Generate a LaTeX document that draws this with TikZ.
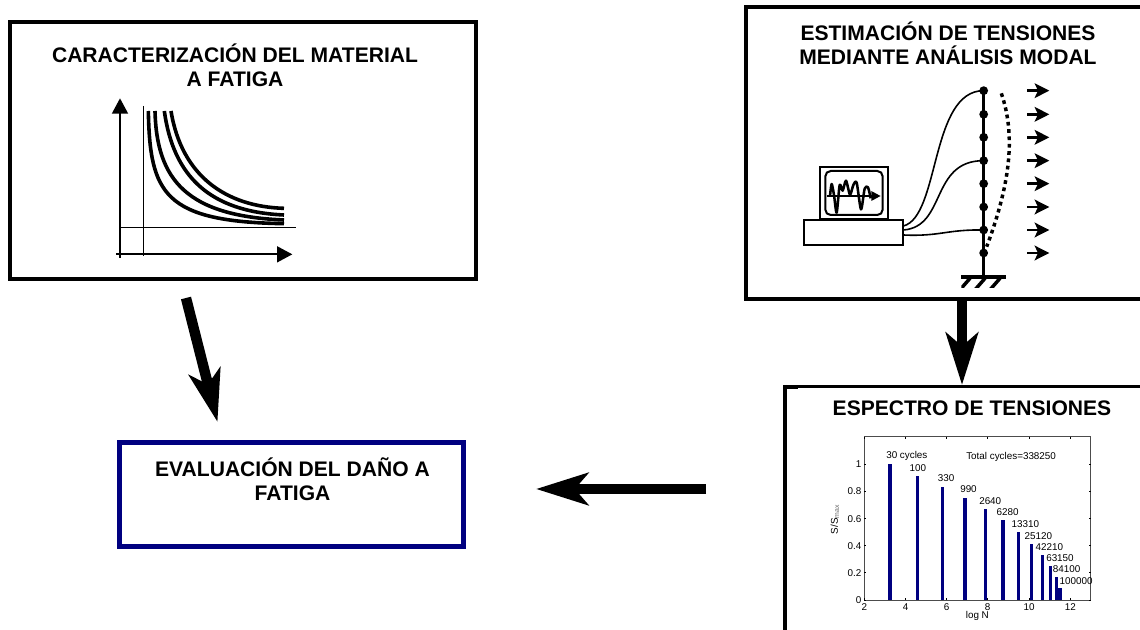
\documentclass[tikz,border=0pt]{standalone}
\usepackage{fontspec}
\setmainfont{Liberation Sans}
\usetikzlibrary{arrows.meta}
\tikzset{
 panel/.style={draw=black,line width=3pt,fill=white,anchor=north west,inner sep=0pt},
 bluepanel/.style={draw=blue!50!black,line width=4pt,fill=white,anchor=north west,inner sep=0pt},
 ttl/.style={font=\fontsize{15.8}{18}\selectfont\bfseries,align=center,inner sep=0pt},
 chartxt/.style={font=\fontsize{7.4}{8}\selectfont,inner sep=0pt},
 bar/.style={fill=blue!50!black,draw=none},
 bigarrow/.style={line width=7.8pt,-{Stealth[length=39pt,width=24pt,inset=10pt]}},
 sens/.style={circle,fill=black,inner sep=0pt,minimum size=6.6pt},
 load/.style={line width=1.8pt,-{Stealth[length=11pt,width=11pt,inset=2.5pt]}},
 sncurve/.style={line width=2.7pt},
 axisarrow/.style={line width=1.3pt,-{Triangle[length=11.5pt,width=12pt]}},
 thinaxis/.style={line width=1.1pt},
 wire/.style={line width=1.2pt},
}
\begin{document}
\begin{tikzpicture}[x=.75pt,y=-.75pt]
\useasboundingbox (0,0) rectangle (1140,630);
\fill[white] (0,0) rectangle (1140,630);
% panels
\node[panel,minimum width=349.5pt,minimum height=193pt] (mat) at (8,20) {};
\node[panel,minimum width=400pt,minimum height=219pt] (est) at (744,5) {};
\node[panel,line width=2.4pt,minimum width=400pt,minimum height=300pt] (esp) at (783,385) {};
\fill (783,385) rectangle (798,389);
\draw[line width=3pt] (785,385) -- (785,630);
\node[bluepanel,minimum width=258pt,minimum height=78pt] (eva) at (117,440) {};
% titles
\node[ttl] (t1) at (235,65) {CARACTERIZACIÓN DEL MATERIAL\\A FATIGA};
\node[ttl] (t2) at (948,43) {ESTIMACIÓN DE TENSIONES\\MEDIANTE ANÁLISIS MODAL};
\node[ttl] (t3) at (972,408) {ESPECTRO DE TENSIONES};
\node[ttl] (t4) at (292.5,479) {EVALUACIÓN DEL DAÑO A\\FATIGA};
% big arrows
\coordinate (a1) at (186,298);
\coordinate (a2) at (217.5,422);
\draw[bigarrow] (a1) -- (a2);
\coordinate (b1) at (962,301);
\coordinate (b2) at (962,385);
\draw[bigarrow] (b1) -- (b2);
\coordinate (c1) at (706,489);
\coordinate (c2) at (536,489);
\draw[bigarrow] (c1) -- (c2);
% S-N sketch
\begin{scope}[shift={(100,90)},x=.25pt,y=-.25pt]
\draw[axisarrow] (60,503) -- (60,25);
\draw[axisarrow] (48,493) -- (577,493);
\draw[thinaxis] (130,48) -- (130,497);
\draw[thinaxis] (60,412) -- (587,412);
\draw[sncurve] (145,63) .. controls (150,310) and (190,395) .. (552,401);
\draw[sncurve] (165,63) .. controls (170,270) and (260,378) .. (552,390);
\draw[sncurve] (193,63) .. controls (220,260) and (330,365) .. (552,375);
\draw[sncurve] (213,63) .. controls (245,260) and (380,350) .. (552,355);
\end{scope}
% modal sketch
\begin{scope}[shift={(790,70)},x=.25pt,y=-.25pt]
\node[draw,line width=1.5pt,fill=white,minimum width=51pt,minimum height=39pt,inner sep=0pt] (mon) at (192,370) {};
\node[draw,line width=1.5pt,fill=white,rounded corners=4pt,minimum width=43pt,minimum height=33pt,inner sep=0pt] (scr) at (192,369) {};
\node[draw,line width=1.5pt,fill=white,minimum width=74pt,minimum height=19pt,inner sep=0pt] (base) at (191,488) {};
\draw[line width=1.5pt,-{Triangle[length=7pt,width=7pt]}] (112,378) -- (272,378);
\draw[line width=1.9pt,line join=round] plot[smooth,tension=.45] coordinates {(120,378) (125,342) (132,375) (140,428) (149,345) (158,362) (168,332) (180,374) (190,345) (200,338) (213,418) (224,356) (234,352) (242,385)};
\coordinate (top) at (581,62);
\coordinate (foot) at (581,618);
\draw[line width=2.6pt] (top) -- (foot);
\foreach \n/\yy in {1/62,2/133,3/202,4/272,5/341,6/411,7/480,8/549}{
  \node[sens] (s\n) at (581,\yy) {};
  \coordinate (l\n) at (712,\yy);
  \coordinate (m\n) at (778,\yy);
  \draw[load] (l\n) -- (m\n);
}
\coordinate (g1) at (514,621);
\coordinate (g2) at (648,621);
\draw[line width=3pt] (g1) -- (g2);
\begin{scope}
\clip (514,621) rectangle (648,654);
\foreach \xx in {540,585,630}{\draw[line width=2.6pt] (\xx,625) -- (\xx-28,657);}
\end{scope}
\draw[wire] (340,468) .. controls (450,440) and (420,62) .. (s1.center);
\draw[wire] (340,480) .. controls (470,470) and (420,272) .. (s4.center);
\draw[wire] (340,495) .. controls (450,500) and (470,478) .. (s7.center);
\draw[line width=2.6pt,dash pattern=on 2.8pt off 2.7pt] (634,70) .. controls (675,190) and (665,330) .. (590,530);
\end{scope}
% chart
\begin{scope}[shift={(780,380)},x=.25pt,y=-.25pt]
\draw[line width=.5pt,draw=black!70] (253,170) rectangle (932,660);
\foreach \xx/\tp in {330/253,412/287,488/320,555/354,617/388,669/421,716/456,755/491,787/524,812/558,829/592,840/625}{
  \fill[bar] (\xx-5,\tp) rectangle (\xx+5,660);
}
\foreach \xx/\lab in {253/2,377/4,500/6,623/8,747/10,871/12}{
  \draw[line width=.4pt] (\xx,660) -- (\xx,654);
  \draw[line width=.4pt] (\xx,170) -- (\xx,176);
  \node[chartxt] (xt\lab) at (\xx,681) {\lab};
}
\foreach \yy/\lab in {660/0,578/0.2,497/0.4,416/0.6,334/0.8,253/1}{
  \draw[line width=.4pt] (253,\yy) -- (259,\yy);
  \draw[line width=.4pt] (932,\yy) -- (926,\yy);
  \node[chartxt,anchor=east] (yt\lab) at (245,\yy) {\lab};
}
\node[chartxt] (xl) at (592,707) {log N};
\node[chartxt,rotate=90] (yl) at (165,418) {S/S\textsubscript{\textcolor{black!60}{max}}};
\node[chartxt,anchor=west] (l01) at (318,228) {30 cycles};
\node[chartxt,anchor=west] (l00) at (558,230) {Total cycles=338250};
\node[chartxt,anchor=west] (l02) at (388,264) {100};
\node[chartxt,anchor=west] (l03) at (473,294) {330};
\node[chartxt,anchor=west] (l04) at (540,327) {990};
\node[chartxt,anchor=west] (l05) at (597,362) {2640};
\node[chartxt,anchor=west] (l06) at (649,396) {6280};
\node[chartxt,anchor=west] (l07) at (694,433) {13310};
\node[chartxt,anchor=west] (l08) at (733,467) {25120};
\node[chartxt,anchor=west] (l09) at (766,500) {42210};
\node[chartxt,anchor=west] (l10) at (798,535) {63150};
\node[chartxt,anchor=west] (l11) at (818,568) {84100};
\node[chartxt,anchor=west] (l12) at (838,602) {100000};
\end{scope}
\end{tikzpicture}
\end{document}
